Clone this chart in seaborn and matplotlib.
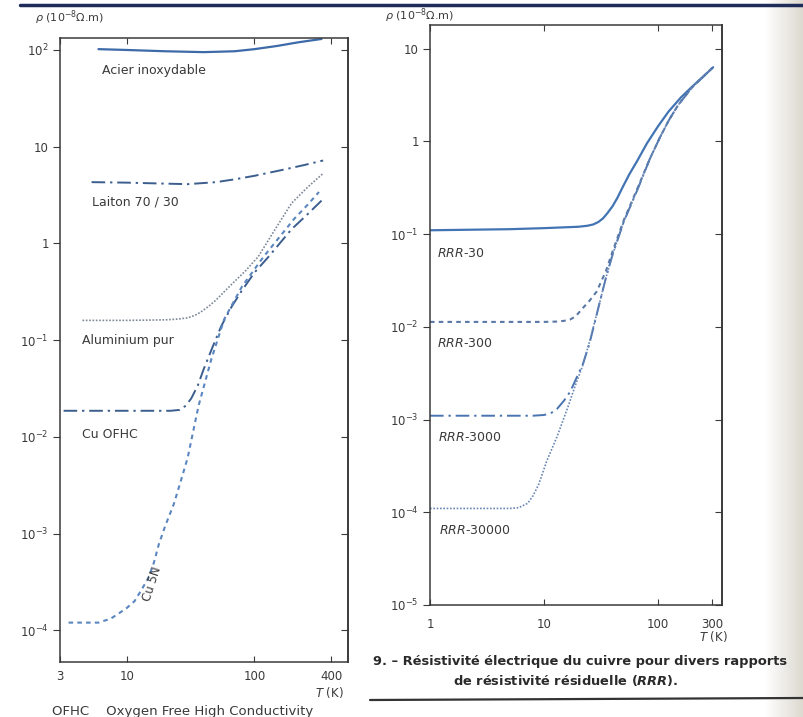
"""
Resistivite electrique de quelques metaux et du cuivre pour divers RRR (log-log).
"""
import numpy as np
import matplotlib
matplotlib.use('Agg')
import matplotlib.pyplot as plt
import seaborn as sns
from matplotlib.ticker import FixedLocator, FixedFormatter, NullLocator
from matplotlib.lines import Line2D

# ---- left panel : metals, T (K) / rho (1e-8 ohm.m) ----
acier_T = [6, 10, 20, 40, 70, 100, 150, 220, 335]
acier_rho = [102, 100, 97, 95, 97, 102, 110, 120, 130]

laiton_T = [5.3, 10, 20, 30, 50, 70, 100, 170, 250, 345]
laiton_rho = [4.3, 4.25, 4.15, 4.1, 4.3, 4.6, 5.0, 5.8, 6.5, 7.2]

alu_T = [4.5, 10, 20, 25, 30, 34, 38, 44, 50, 66, 85, 107, 150, 195, 260, 345]
alu_rho = [0.16, 0.16, 0.162, 0.165, 0.17, 0.18, 0.195, 0.225, 0.26, 0.376,
           0.52, 0.73, 1.5, 2.6, 3.8, 5.3]

ofhc_T = [3.2, 10, 22, 26, 29, 32, 36, 40, 47, 55, 66, 79, 100, 128, 195, 260, 335]
ofhc_rho = [0.0186, 0.0186, 0.0186, 0.019, 0.021, 0.025, 0.034, 0.05, 0.085,
            0.14, 0.22, 0.32, 0.5, 0.72, 1.4, 2.0, 2.77]

cu5n_T = [3.5, 6, 7.5, 8.7, 10, 11.5, 13, 14.8, 16.3, 17.8, 20, 23.3, 26.5,
          30, 36.5, 46, 58, 80, 118, 160, 205, 260, 320]
cu5n_rho = [1.2e-4, 1.2e-4, 1.32e-4, 1.5e-4, 1.7e-4, 2.0e-4, 2.6e-4, 3.5e-4,
            5.0e-4, 7.7e-4, 1.2e-3, 2.0e-3, 3.5e-3, 6.1e-3, 0.021, 0.064,
            0.165, 0.36, 0.73, 1.2, 1.8, 2.5, 3.4]

# ---- right panel : copper, several RRR ----
rrr30_T = [1, 5, 10, 20, 24, 27, 30, 33, 36, 40, 44, 49, 56, 66, 80, 100,
           124, 160, 200, 250, 305]
rrr30_rho = [0.11, 0.113, 0.116, 0.12, 0.123, 0.127, 0.135, 0.148, 0.168,
             0.2, 0.245, 0.32, 0.44, 0.62, 0.95, 1.45, 2.1, 3.0, 3.9, 5.0, 6.3]

rrr300_T = [1, 10, 13, 15, 17, 19, 21, 23, 25, 29, 35, 40, 50, 66, 85, 104,
            125, 150, 200, 250, 300]
rrr300_rho = [0.0113, 0.0113, 0.0114, 0.0116, 0.012, 0.013, 0.015, 0.017,
              0.019, 0.024, 0.04, 0.065, 0.14, 0.31, 0.65, 1.1, 1.7, 2.45,
              3.85, 5.0, 6.2]

rrr3000_T = [1, 8, 10, 11.5, 13, 15, 17, 19, 22, 25, 30, 35, 40, 50, 66, 85,
             104, 125, 150, 200, 250, 300]
rrr3000_rho = [1.1e-3, 1.1e-3, 1.12e-3, 1.17e-3, 1.3e-3, 1.6e-3, 2.0e-3,
               2.7e-3, 4.0e-3, 6.5e-3, 0.016, 0.034, 0.06, 0.135, 0.3, 0.65,
               1.1, 1.7, 2.45, 3.85, 5.0, 6.2]

rrr30000_T = [1, 5, 6, 7.2, 8, 9, 10.6, 13, 16, 19, 22, 25, 30, 35, 40, 50,
              66, 85, 104, 125, 150, 200, 250, 300]
rrr30000_rho = [1.1e-4, 1.1e-4, 1.12e-4, 1.25e-4, 1.5e-4, 2.0e-4, 3.6e-4,
                6.5e-4, 1.3e-3, 2.4e-3, 3.9e-3, 6.8e-3, 0.016, 0.034, 0.06,
                0.135, 0.3, 0.65, 1.1, 1.7, 2.45, 3.85, 5.0, 6.2]

left_yticks = [1e-4, 1e-3, 1e-2, 1e-1, 1, 10, 100]
left_ylabels = [r'$10^{-4}$', r'$10^{-3}$', r'$10^{-2}$', r'$10^{-1}$', '1', '10', r'$10^{2}$']
left_xticks = [3, 10, 100, 400]

right_yticks = [1e-5, 1e-4, 1e-3, 1e-2, 1e-1, 1, 10]
right_ylabels = [r'$10^{-5}$', r'$10^{-4}$', r'$10^{-3}$', r'$10^{-2}$', r'$10^{-1}$', '1', '10']
right_xticks = [1, 10, 100, 300]

sns.set_theme(style='white')
plt.rcParams['font.family'] = ['DejaVu Sans']
plt.rcParams['mathtext.fontset'] = 'custom'
plt.rcParams['mathtext.rm'] = 'DejaVu Sans'
plt.rcParams['mathtext.it'] = 'DejaVu Sans:italic'
plt.rcParams['mathtext.bf'] = 'DejaVu Sans:bold'
plt.rcParams['mathtext.bfit'] = 'DejaVu Sans:bold:italic'

INK = '#3a3a3a'
BLUE = '#4274b4'
DARK = '#3b5e8e'

fig = plt.figure(figsize=(8.04, 7.17), dpi=100)

# page tint at the right edge of the scan
tint = fig.add_axes([765 / 804, 0, 39 / 804, 1])
tint.imshow(np.linspace(0, 1, 50)[None, :], aspect='auto',
            cmap=matplotlib.colors.LinearSegmentedColormap.from_list('p', ['#ffffff', '#dcd8cf']),
            extent=[0, 1, 0, 1])
tint.axis('off')

axL = fig.add_axes([60 / 804, 55 / 717, 288 / 804, 624 / 717])
axR = fig.add_axes([430 / 804, 112 / 717, 292 / 804, 580 / 717])

for ax in (axL, axR):
    ax.set_xscale('log')
    ax.set_yscale('log')


def draw(ax, T, rho, ls, color, lw=1.4):
    sns.lineplot(x=T, y=rho, ax=ax, color=color, linestyle=ls, linewidth=lw,
                 sort=False, estimator=None, solid_joinstyle='round',
                 dash_joinstyle='round')


dashdot = (0, (7, 2.5, 1.2, 2.5))
dotted = (0, (1, 1))
dashed = (0, (2.2, 2))

draw(axL, acier_T, acier_rho, '-', '#3d6aa8', 1.6)
draw(axL, laiton_T, laiton_rho, dashdot, DARK)
draw(axL, alu_T, alu_rho, dotted, '#7d8796', 1.2)
draw(axL, ofhc_T, ofhc_rho, dashdot, DARK)
draw(axL, cu5n_T, cu5n_rho, dashed, '#5b86bf', 1.5)

draw(axR, rrr30_T, rrr30_rho, '-', BLUE, 1.6)
draw(axR, rrr300_T, rrr300_rho, dashed, '#5a78a6', 1.5)
draw(axR, rrr3000_T, rrr3000_rho, dashdot, '#4a74b0')
draw(axR, rrr30000_T, rrr30000_rho, dotted, '#6a87b4', 1.2)

axL.set_xlim(3, 540)
axL.set_ylim(4.7e-5, 133)
axR.set_xlim(1, 365)
axR.set_ylim(1e-5, 18)

panels = [(axL, left_xticks, left_yticks, left_ylabels, 6),
          (axR, right_xticks, right_yticks, right_ylabels, 9)]
for ax, xt, yt, yl, xpad in panels:
    ax.xaxis.set_major_locator(FixedLocator(xt))
    ax.xaxis.set_major_formatter(FixedFormatter([str(v) for v in xt]))
    ax.yaxis.set_major_locator(FixedLocator(yt))
    ax.yaxis.set_major_formatter(FixedFormatter(yl))
    ax.xaxis.set_minor_locator(NullLocator())
    ax.yaxis.set_minor_locator(NullLocator())
    ax.tick_params(axis='x', direction='in', top=True, bottom=True, length=4,
                   width=0.8, color=INK, labelsize=8.5, labelcolor=INK, pad=xpad)
    ax.tick_params(axis='y', direction='out', left=True, right=False, length=5,
                   width=0.8, color=INK, labelsize=8.5, labelcolor=INK, pad=3)
    sec = ax.secondary_yaxis('right')
    sec.yaxis.set_major_locator(FixedLocator(yt))
    sec.yaxis.set_minor_locator(NullLocator())
    sec.tick_params(direction='in', length=5, width=0.8, color=INK, labelright=False)
    sec.spines['right'].set_color(INK)
    for s in ax.spines.values():
        s.set_color(INK)
        s.set_linewidth(1.1)
    ax.set_xlabel('')
    ax.set_ylabel('')

# curve labels, left
lab = dict(fontsize=9, color=INK, ha='left', va='center')
axL.text(6.4, 62, 'Acier inoxydable', **lab)
axL.text(5.3, 2.66, 'Laiton 70 / 30', **lab)
axL.text(4.5, 0.1, 'Aluminium pur', **lab)
axL.text(4.5, 0.0107, 'Cu OFHC', **lab)
axL.text(15.8, 3.0e-4, 'Cu 5N', fontsize=8.5, color=INK, ha='center', va='center', rotation=72)

# curve labels, right
axR.text(1.15, 0.062, r'$\mathit{RRR}$-30', **lab)
axR.text(1.15, 6.6e-3, r'$\mathit{RRR}$-300', **lab)
axR.text(1.18, 6.4e-4, r'$\mathit{RRR}$-3000', **lab)
axR.text(1.2, 6.4e-5, r'$\mathit{RRR}$-30000', **lab)

# axis titles
fig.text(35 / 804, 1 - 18 / 717, r'$\mathit{\rho}$ (10$^{-8}$Ω.m)', fontsize=8, color=INK, va='center')
fig.text(385 / 804, 1 - 16 / 717, r'$\mathit{\rho}$ (10$^{-8}$Ω.m)', fontsize=8, color=INK, va='center')
fig.text(344 / 804, 1 - 693 / 717, r'$\mathit{T}$ (K)', fontsize=8.5, color=INK, ha='right', va='center')
fig.text(728 / 804, 1 - 637 / 717, r'$\mathit{T}$ (K)', fontsize=8.5, color=INK, ha='right', va='center')

# captions
fig.text(373 / 804, 1 - 662 / 717, '9. – Résistivité électrique du cuivre pour divers rapports',
         fontsize=9.4, fontweight='bold', color='#2a2a2a', va='center')
fig.text(453 / 804, 1 - 680 / 717, r'de résistivité résiduelle ($\mathbfit{RRR}$).',
         fontsize=9.4, fontweight='bold', color='#2a2a2a', va='center')
fig.text(52 / 804, 1 - 712 / 717, 'OFHC    Oxygen Free High Conductivity',
         fontsize=9.5, color=INK, va='center')

# page rules
fig.add_artist(Line2D([20 / 804, 1], [1 - 5 / 717, 1 - 5 / 717], color='#1f2b58', lw=2.5))
fig.add_artist(Line2D([370 / 804, 1], [1 - 700 / 717, 1 - 698 / 717], color='#333333', lw=1.6))

fig.savefig('out.png', dpi=100, facecolor='white')
